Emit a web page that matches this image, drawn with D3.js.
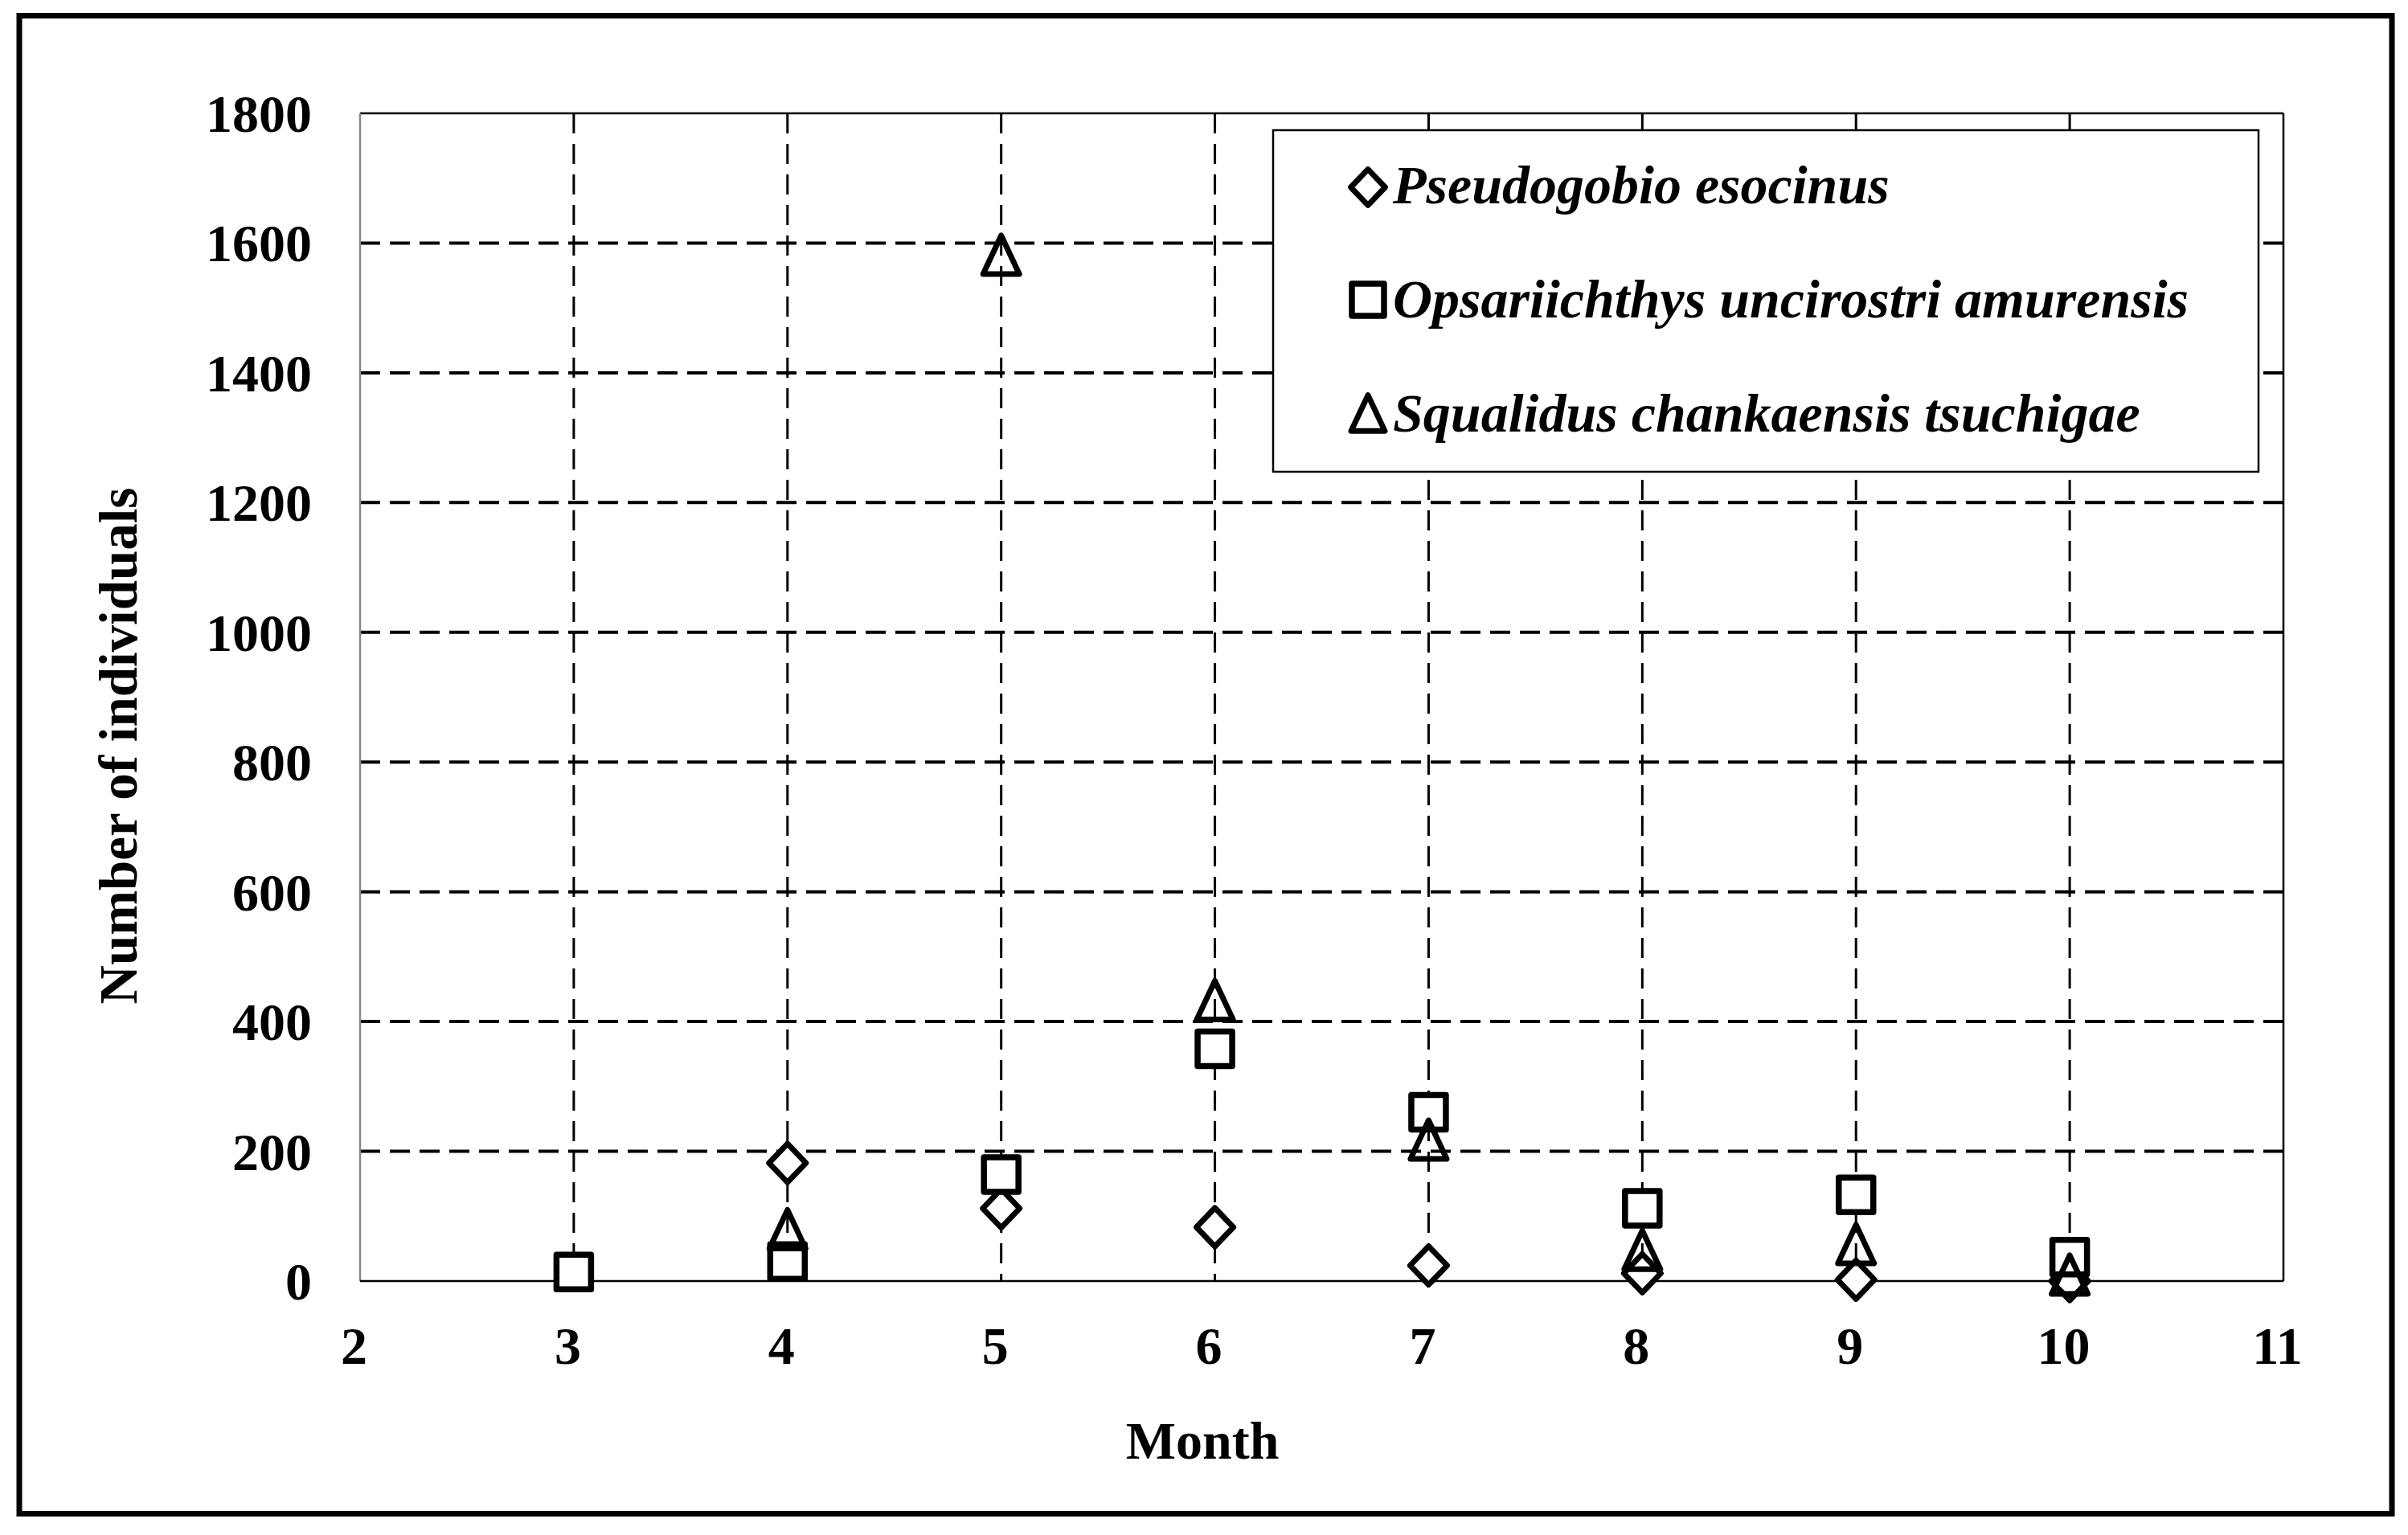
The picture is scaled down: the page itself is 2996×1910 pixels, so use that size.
<!DOCTYPE html>
<html>
<head>
<meta charset="utf-8">
<script src="https://cdn.jsdelivr.net/npm/d3@7"></script>
<style>
  html, body { margin: 0; padding: 0; background: #fff; }
  svg { display: block; }
  text { font-family: "Liberation Serif", "Times New Roman", serif; font-weight: bold; fill: #000; }
</style>
</head>
<body>
<svg id="chart" width="2996" height="1910"></svg>
<script>
// ---- data ----
const seriesNames = ["Pseudogobio esocinus", "Opsariichthys uncirostri amurensis", "Squalidus chankaensis tsuchigae"];
const pseudogobioMonths = [4, 5, 6, 7, 8, 9, 10];
const pseudogobioValues = [182, 112, 83, 24, 12, 2, 0];
const opsariichthysMonths = [3, 4, 5, 6, 7, 8, 9, 10];
const opsariichthysValues = [14, 30, 164, 358, 260, 112, 133, 37];
const squalidusMonths = [4, 5, 6, 7, 8, 9, 10];
const squalidusValues = [80, 1582, 433, 218, 48, 57, 10];
const xTicks = [2, 3, 4, 5, 6, 7, 8, 9, 10, 11];
const yTicks = [0, 200, 400, 600, 800, 1000, 1200, 1400, 1600, 1800];
const xTitle = "Month";
const yTitle = "Number of individuals";

// ---- layout ----
const svg = d3.select("#chart");
const L = 448, R = 2841, T = 141, B = 1594;
const x = d3.scaleLinear().domain([2, 11]).range([L, R]);
const y = d3.scaleLinear().domain([0, 1800]).range([B, T]);
const FS = 66;

// outer frame
svg.append("rect").attr("x", 24).attr("y", 19.5).attr("width", 2976 - 24).attr("height", 1883.5 - 19.5)
  .attr("fill", "#fff").attr("stroke", "#000").attr("stroke-width", 7);

// horizontal gridlines
svg.append("g").selectAll("line").data(yTicks.filter(d => d > 0 && d < 1800)).join("line")
  .attr("x1", L).attr("x2", R).attr("y1", d => y(d)).attr("y2", d => y(d))
  .attr("stroke", "#000").attr("stroke-width", 4).attr("stroke-dasharray", "25 12");
// vertical gridlines
svg.append("g").selectAll("line").data(xTicks.filter(d => d > 2 && d < 11)).join("line")
  .attr("x1", d => x(d)).attr("x2", d => x(d)).attr("y1", T).attr("y2", B)
  .attr("stroke", "#000").attr("stroke-width", 3).attr("stroke-dasharray", "25 13");

// plot border
svg.append("line").attr("x1", L).attr("x2", R).attr("y1", T).attr("y2", T).attr("stroke", "#000").attr("stroke-width", 2.5);
svg.append("line").attr("x1", R).attr("x2", R).attr("y1", T).attr("y2", B).attr("stroke", "#000").attr("stroke-width", 2.5);
svg.append("line").attr("x1", L).attr("x2", L).attr("y1", T).attr("y2", B).attr("stroke", "#888").attr("stroke-width", 2.5);
svg.append("line").attr("x1", L).attr("x2", R).attr("y1", B).attr("y2", B).attr("stroke", "#000").attr("stroke-width", 2.5);

// axes via d3 axis (labels only)
const yAxis = d3.axisLeft(y).tickValues(yTicks).tickSize(0).tickPadding(0).tickFormat(d3.format("d"));
const gy = svg.append("g").attr("transform", `translate(${L - 60},0)`).call(yAxis);
gy.select(".domain").remove();
gy.selectAll("text").attr("font-size", FS).attr("font-family", "Liberation Serif").attr("font-weight", "bold").attr("fill", "#000").attr("dy", "0.34em").attr("x", 0);

const xAxis = d3.axisBottom(x).tickValues(xTicks).tickSize(0).tickPadding(0).tickFormat(d3.format("d"));
const gx = svg.append("g").attr("transform", `translate(-8,${B})`).call(xAxis);
gx.select(".domain").remove();
gx.selectAll("text").attr("font-size", FS).attr("font-family", "Liberation Serif").attr("font-weight", "bold").attr("fill", "#000").attr("dy", null).attr("y", 103);

// axis titles
svg.append("text").attr("x", 1496).attr("y", 1815).attr("text-anchor", "middle").attr("font-size", FS).text(xTitle);
svg.append("text").attr("transform", "translate(170,928) rotate(-90)").attr("text-anchor", "middle").attr("font-size", 67).text(yTitle);

// ---- markers ----
function diamondPath(s) { const w = 23 * s, h = 24 * s; return `M0,${-h}L${w},0L0,${h}L${-w},0Z`; }
function squarePath(s) { const a = 21.5 * s; return `M${-a},${-a}H${a}V${a}H${-a}Z`; }
function trianglePath(s) { const w = 22.5 * s, h = 48 * s; return `M0,${-h / 2}L${w},${h / 2}L${-w},${h / 2}Z`; }
const markerStyles = [
  { path: diamondPath, sw: 7, fill: "#fff" },
  { path: squarePath, sw: 7.5, fill: "#fff" },
  { path: trianglePath, sw: 7, fill: "none" }
];
const seriesData = [
  pseudogobioMonths.map((m, i) => ({ m, v: pseudogobioValues[i] })),
  opsariichthysMonths.map((m, i) => ({ m, v: opsariichthysValues[i] })),
  squalidusMonths.map((m, i) => ({ m, v: squalidusValues[i] }))
];
seriesData.forEach((data, si) => {
  const st = markerStyles[si];
  svg.append("g").selectAll("path").data(data).join("path")
    .attr("transform", d => `translate(${x(d.m)},${y(d.v)})`)
    .attr("d", st.path(1))
    .attr("fill", st.fill).attr("stroke", "#000").attr("stroke-width", st.sw)
    .attr("stroke-linejoin", "round");
});

// ---- legend ----
svg.append("rect").attr("x", 1584).attr("y", 162).attr("width", 2810 - 1584).attr("height", 587 - 162)
  .attr("fill", "#fff").attr("stroke", "#000").attr("stroke-width", 2.5);
const legendMarkerY = [233, 373, 514];
const legendBaseY = [253, 395, 537];
seriesNames.forEach((name, i) => {
  const st = markerStyles[i];
  svg.append("path").attr("transform", `translate(1702,${legendMarkerY[i]})`).attr("d", st.path(0.93))
    .attr("fill", st.fill).attr("stroke", "#000").attr("stroke-width", st.sw).attr("stroke-linejoin", "round");
  svg.append("text").attr("x", 1733).attr("y", legendBaseY[i]).attr("font-size", 68).attr("font-style", "italic").text(name);
});
</script>
</body>
</html>
